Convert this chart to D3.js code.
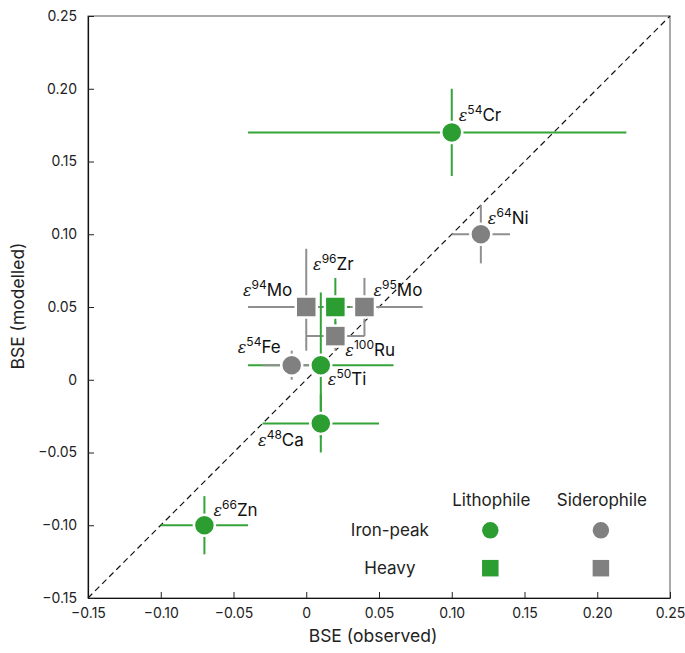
<!DOCTYPE html>
<html>
<head>
<meta charset="utf-8">
<script src="https://cdn.jsdelivr.net/npm/d3@7"></script>
<style>
  body { margin: 0; background: #fff; }
  svg { font-family: Inter, "Liberation Sans", sans-serif; }
</style>
</head>
<body>
<div id="chart"></div>
<script>
// isotope systems, drawn in this order
const masses   = [64, 54, 94, 95, 100, 96, 50, 54, 48, 66];
const elements = ['Ni', 'Cr', 'Mo', 'Mo', 'Ru', 'Zr', 'Ti', 'Fe', 'Ca', 'Zn'];
const affinity = ['sid', 'lith', 'sid', 'sid', 'sid', 'lith', 'lith', 'sid', 'lith', 'lith'];
const family   = ['iron', 'iron', 'heavy', 'heavy', 'heavy', 'heavy', 'iron', 'iron', 'iron', 'iron'];

const observed = [0.12, 0.10, 0.00, 0.04, 0.02, 0.02, 0.01, -0.01, 0.01, -0.07];
const obsLow   = [0.10, -0.04, -0.04, 0.00, 0.00, 0.01, -0.04, -0.03, -0.03, -0.10];
const obsHigh  = [0.14, 0.22, 0.04, 0.08, 0.04, 0.03, 0.06, 0.01, 0.05, -0.04];

const modelled = [0.10, 0.17, 0.05, 0.05, 0.03, 0.05, 0.01, 0.01, -0.03, -0.10];
const modLow   = [0.08, 0.14, 0.02, 0.03, 0.02, 0.03, -0.04, 0.00, -0.05, -0.12];
const modHigh  = [0.12, 0.20, 0.09, 0.07, 0.04, 0.07, 0.06, 0.02, -0.01, -0.08];

const ticks = [-0.15, -0.10, -0.05, 0, 0.05, 0.10, 0.15, 0.20, 0.25];

const colors = { lith: '#2b9d31', sid: '#808080' };
const barColors = { lith: '#34a338', sid: '#8f8f8f' };

// label placement relative to marker: [dx, dy, anchor]
const labelPos = {
  Ni64: [7, -10, 'start'], Cr54: [7, -11, 'start'], Mo94: [-14, -11, 'end'],
  Mo95: [9, -11, 'start'], Ru100: [10, 20, 'start'], Zr96: [-2, -37, 'middle'],
  Ti50: [7, 20, 'start'], Fe54: [-11, -12, 'end'], Ca48: [-17, 23, 'end'],
  Zn66: [9, -9, 'start']
};

const margin = { top: 16, right: 15, bottom: 55, left: 88 };
const width = 582;
const height = 582;

const svg = d3.select('#chart').append('svg')
  .attr('width', 685)
  .attr('height', 653)
  .append('g')
  .attr('transform', `translate(${margin.left}, ${margin.top})`);

const x = d3.scaleLinear().domain([-0.15, 0.25]).range([0, width]);
const y = d3.scaleLinear().domain([-0.15, 0.25]).range([height, 0]);

const fmt = d => d === 0 ? '0' : d3.format('.2f')(d).replace('-', '\u2212');

// frame
svg.append('rect')
  .attr('width', width).attr('height', height)
  .attr('fill', 'none').attr('stroke', '#555').attr('stroke-width', 1);

const xAxis = svg.append('g')
  .attr('transform', `translate(0, ${height})`)
  .call(d3.axisBottom(x).tickValues(ticks).tickFormat(fmt).tickSizeInner(-6).tickSizeOuter(0).tickPadding(10));
const yAxis = svg.append('g')
  .call(d3.axisLeft(y).tickValues(ticks).tickFormat(fmt).tickSizeInner(-6).tickSizeOuter(0).tickPadding(11));

[xAxis, yAxis].forEach(ax => {
  ax.select('.domain').attr('stroke', '#111').attr('stroke-width', 1.2);
  ax.selectAll('.tick line').attr('stroke', '#222').attr('stroke-width', 1);
  ax.selectAll('.tick text').attr('font-size', 14).attr('fill', '#222')
    .attr('font-family', 'Inter, sans-serif');
});

svg.append('text')
  .attr('x', width / 2 - 6).attr('y', height + 44)
  .attr('text-anchor', 'middle').attr('font-size', 17.5).attr('fill', '#222')
  .text('BSE (observed)');
svg.append('text')
  .attr('transform', `translate(${-64}, ${height / 2 - 1}) rotate(-90)`)
  .attr('text-anchor', 'middle').attr('font-size', 17.5).attr('fill', '#222')
  .text('BSE (modelled)');

// 1:1 line
svg.append('line')
  .attr('x1', x(-0.15)).attr('y1', y(-0.15))
  .attr('x2', x(0.25)).attr('y2', y(0.25))
  .attr('stroke', '#111').attr('stroke-width', 1.2)
  .attr('stroke-dasharray', '6,4');

const points = masses.map((m, i) => ({
  key: elements[i] + m, mass: m, el: elements[i],
  aff: affinity[i], fam: family[i],
  x: observed[i], y: modelled[i],
  x0: obsLow[i], x1: obsHigh[i], y0: modLow[i], y1: modHigh[i]
}));

const bars = svg.append('g');
points.forEach(p => {
  bars.append('line')
    .attr('x1', x(p.x0)).attr('x2', x(p.x1))
    .attr('y1', y(p.y)).attr('y2', y(p.y))
    .attr('stroke', barColors[p.aff]).attr('stroke-width', 2);
  bars.append('line')
    .attr('x1', x(p.x)).attr('x2', x(p.x))
    .attr('y1', y(p.y0)).attr('y2', y(p.y1))
    .attr('stroke', barColors[p.aff]).attr('stroke-width', 2);
});

function drawMarker(g, fam, aff, cx, cy, r) {
  if (fam === 'iron') {
    g.append('circle')
      .attr('cx', cx).attr('cy', cy).attr('r', r)
      .attr('fill', colors[aff]).attr('stroke', '#fff').attr('stroke-width', 2.5);
  } else {
    g.append('rect')
      .attr('x', cx - r).attr('y', cy - r)
      .attr('width', 2 * r).attr('height', 2 * r)
      .attr('fill', colors[aff]).attr('stroke', '#fff').attr('stroke-width', 2.5);
  }
}

const marks = svg.append('g');
points.forEach(p => drawMarker(marks, p.fam, p.aff, x(p.x), y(p.y), 10.5));

const labels = svg.append('g').attr('font-size', 17).attr('fill', '#111');
points.forEach(p => {
  const [dx, dy, anchor] = labelPos[p.key];
  const t = labels.append('text')
    .attr('x', x(p.x) + dx).attr('y', y(p.y) + dy)
    .attr('text-anchor', anchor);
  t.append('tspan').attr('font-style', 'italic').attr('font-family', '"DejaVu Serif", serif')
    .attr('font-size', 16).text('\u03B5');
  t.append('tspan').attr('dy', -7).attr('font-size', 12).text(p.mass);
  t.append('tspan').attr('dy', 7).text(p.el);
});

// legend
const legendCols = ['lith', 'sid'];
const legendColNames = ['Lithophile', 'Siderophile'];
const legendRows = ['iron', 'heavy'];
const legendRowNames = ['Iron-peak', 'Heavy'];
const colX = [x(0.1265), x(0.2025)];
const rowY = [y(-0.1035), y(-0.1295)];

const legend = svg.append('g').attr('font-size', 17).attr('fill', '#222');
legendColNames.forEach((name, i) => {
  legend.append('text').attr('x', colX[i] + 1).attr('y', y(-0.0865))
    .attr('text-anchor', 'middle').text(name);
});
legendRowNames.forEach((name, j) => {
  legend.append('text').attr('x', x(0.0575)).attr('y', rowY[j] + 6)
    .attr('text-anchor', 'middle').text(name);
  legendCols.forEach((aff, i) => drawMarker(legend, legendRows[j], aff, colX[i], rowY[j], 9.5));
});
</script>
</body>
</html>
